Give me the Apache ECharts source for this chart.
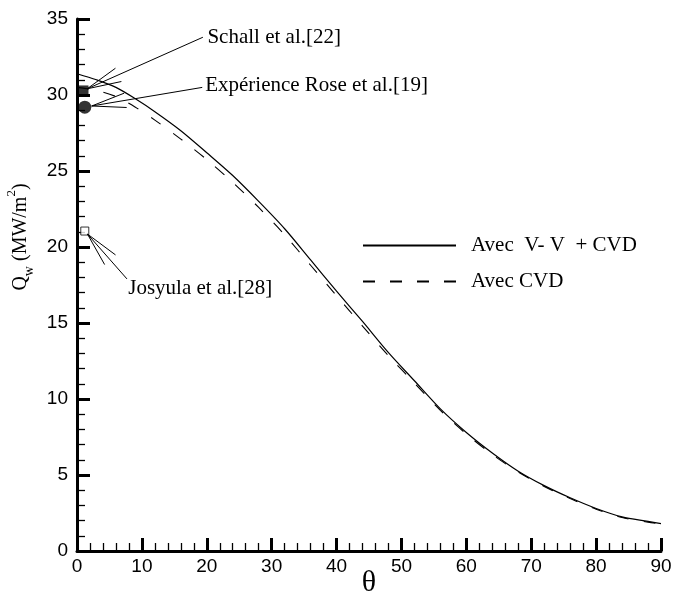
<!DOCTYPE html>
<html>
<head>
<meta charset="utf-8">
<script src="https://cdn.jsdelivr.net/npm/echarts@6/dist/echarts.min.js"></script>
<style>
  html, body { margin: 0; padding: 0; background: #fff; }
  #chart { width: 687px; height: 596px; }
</style>
</head>
<body>
<div id="chart"></div>
<script>
// Wall heat flux along the body versus angle theta
const theta = [0, 3, 6, 9, 12, 16, 20, 24, 28, 32, 36, 40, 44, 48, 52, 56, 60, 64, 68, 72, 76, 80, 84, 88, 90];
const qVVCVD = [31.4, 31.0, 30.5, 29.75, 28.9, 27.65, 26.2, 24.7, 23.0, 21.2, 19.15, 17.1, 15.1, 13.05, 11.2, 9.35, 7.8, 6.45, 5.25, 4.3, 3.5, 2.8, 2.25, 1.95, 1.8];
const qCVD   = [30.5, 30.3, 29.9, 29.2, 28.35, 27.1, 25.75, 24.25, 22.6, 20.8, 18.8, 16.8, 14.8, 12.85, 11.05, 9.25, 7.7, 6.35, 5.2, 4.25, 3.45, 2.75, 2.2, 1.9, 1.78];

const seriesNames = ['Avec  V- V  + CVD', 'Avec CVD'];

// Reference values at the stagnation point
const schall  = [[1.0, 30.3]];
const rose    = [[1.2, 29.2]];
const josyula = [[1.2, 21.05]];

// Annotation texts and where their leaders end (data coordinates)
const notes = [
  { text: 'Schall et al.[22]',          point: schall[0],  end: [19.4, 33.8], label: [20.1, 33.8], r: 4 },
  { text: 'Expérience Rose et al.[19]', point: rose[0],    end: [19.3, 30.5], label: [19.75, 30.6], r: 7 },
  { text: 'Josyula et al.[28]',         point: josyula[0], end: [7.7, 17.9],  label: [7.9, 17.3], r: 4 }
];

const xTicks = { min: 0, max: 90, interval: 10 };
const yTicks = { min: 0, max: 35, interval: 5 };

const serif = 'Liberation Serif';
const sans = 'Liberation Sans';

const chart = echarts.init(document.getElementById('chart'), null, { renderer: 'canvas' });

const axisCommon = {
  axisLine: { show: true, onZero: false, lineStyle: { color: '#000', width: 3 } },
  axisTick: { show: true, inside: true, length: 13, lineStyle: { color: '#000', width: 3 } },
  minorTick: { show: true, splitNumber: 5, length: 8, lineStyle: { color: '#000', width: 1.3 } },
  splitLine: { show: false },
  axisLabel: { color: '#000', fontFamily: sans, fontSize: 19 }
};

chart.setOption({
  animation: false,
  backgroundColor: '#fff',
  grid: { left: 77, right: 26, top: 19, bottom: 45, containLabel: false, outerBoundsMode: 'none' },
  xAxis: Object.assign({}, axisCommon, {
    type: 'value',
    min: xTicks.min, max: xTicks.max, interval: xTicks.interval,
    name: 'θ',
    nameLocation: 'middle',
    nameGap: 17,
    nameMoveOverlap: false,
    nameTextStyle: { fontFamily: serif, fontSize: 30, color: '#000' },
    axisLabel: Object.assign({}, axisCommon.axisLabel, { margin: 6 })
  }),
  yAxis: Object.assign({}, axisCommon, {
    type: 'value',
    min: yTicks.min, max: yTicks.max, interval: yTicks.interval,
    name: '{t|Q}{s|w}{t| (MW/m}{p|2}{t|)}',
    nameLocation: 'middle',
    nameRotate: 90,
    nameGap: 33,
    nameTextStyle: {
      color: '#000', fontFamily: serif, fontSize: 20,
      padding: [0, 0, 0, 96],
      rich: {
        t: { fontFamily: serif, fontSize: 20, lineHeight: 31, verticalAlign: 'middle', color: '#000' },
        s: { fontFamily: serif, fontSize: 14, lineHeight: 17, verticalAlign: 'bottom', color: '#000' },
        p: { fontFamily: serif, fontSize: 13, lineHeight: 13, verticalAlign: 'top', color: '#000' }
      }
    },
    axisLabel: Object.assign({}, axisCommon.axisLabel, { margin: 9 })
  }),
  legend: {
    data: seriesNames,
    orient: 'vertical',
    left: 357,
    top: 230,
    itemWidth: 93,
    itemHeight: 14,
    itemGap: 15,
    itemStyle: { opacity: 0 },
    textStyle: { fontFamily: serif, fontSize: 21, color: '#000', padding: [0, 0, 0, 10] },
    selectedMode: false
  },
  series: [
    {
      name: seriesNames[0],
      type: 'line',
      data: theta.map((t, i) => [t, qVVCVD[i]]),
      smooth: 0.3,
      symbol: 'none',
      itemStyle: { color: '#000' },
      lineStyle: { color: '#000', width: 1.2, type: 'solid' },
      z: 3
    },
    {
      name: seriesNames[1],
      type: 'line',
      data: theta.map((t, i) => [t, qCVD[i]]),
      smooth: 0.3,
      symbol: 'none',
      itemStyle: { color: '#000' },
      lineStyle: { color: '#000', width: 1.1, type: [12, 15] },
      z: 3
    },
    {
      name: 'Schall',
      type: 'scatter',
      data: schall,
      symbol: 'rect',
      symbolSize: 10,
      itemStyle: { color: '#000' },
      z: 5
    },
    {
      name: 'Rose',
      type: 'scatter',
      data: rose,
      symbol: 'circle',
      symbolSize: 13,
      itemStyle: { color: '#000' },
      z: 5
    },
    {
      name: 'Josyula',
      type: 'scatter',
      data: josyula,
      symbol: 'rect',
      symbolSize: 8,
      itemStyle: { color: '#fff', borderColor: '#000', borderWidth: 1 },
      z: 5
    }
  ]
});

// Leader lines with open arrow heads, and the annotation texts
function buildNotes() {
  const els = [];
  const headLen = 35;
  const headAng = 12 * Math.PI / 180;
  notes.forEach(n => {
    const p = chart.convertToPixel({ gridIndex: 0 }, n.point);
    const e = chart.convertToPixel({ gridIndex: 0 }, n.end);
    const l = chart.convertToPixel({ gridIndex: 0 }, n.label);
    const dx = e[0] - p[0], dy = e[1] - p[1];
    const len = Math.hypot(dx, dy);
    const ux = dx / len, uy = dy / len;
    const sx = p[0] + ux * n.r, sy = p[1] + uy * n.r;
    const lineStyle = { stroke: '#000', lineWidth: 1 };
    els.push({ type: 'line', shape: { x1: sx, y1: sy, x2: e[0], y2: e[1] }, style: lineStyle, z: 10 });
    const ang = Math.atan2(uy, ux);
    [ang + headAng, ang - headAng].forEach(a => {
      els.push({
        type: 'line',
        shape: { x1: sx, y1: sy, x2: sx + Math.cos(a) * headLen, y2: sy + Math.sin(a) * headLen },
        style: lineStyle, z: 10
      });
    });
    els.push({
      type: 'text',
      x: l[0], y: l[1],
      style: { text: n.text, fill: '#000', font: '21px "' + serif + '"', textAlign: 'left', textVerticalAlign: 'middle' },
      z: 10
    });
  });
  chart.setOption({ graphic: els });
}
buildNotes();
</script>
</body>
</html>
